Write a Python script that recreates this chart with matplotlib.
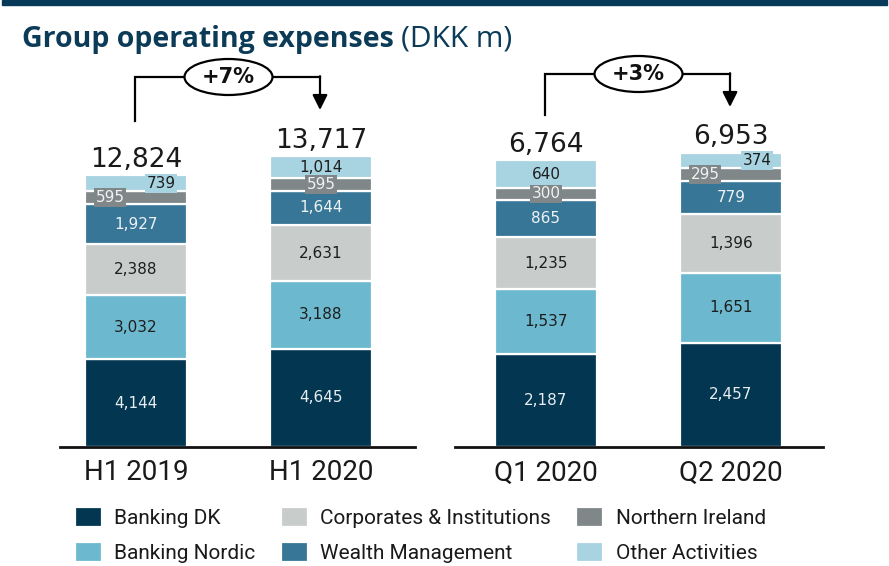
import matplotlib
matplotlib.use("Agg")
import matplotlib.pyplot as plt
from matplotlib.patches import Ellipse, Rectangle

# data
segments = ["Banking DK", "Banking Nordic", "Corporates & Institutions",
            "Wealth Management", "Northern Ireland", "Other Activities"]
h_periods = ["H1 2019", "H1 2020"]
h_values = [[4144, 4645], [3032, 3188], [2388, 2631], [1927, 1644], [595, 595], [739, 1014]]
h_totals = [12824, 13717]
q_periods = ["Q1 2020", "Q2 2020"]
q_values = [[2187, 2457], [1537, 1651], [1235, 1396], [865, 779], [300, 295], [640, 374]]
q_totals = [6764, 6953]
h_change = "+7%"
q_change = "+3%"

colors = ["#023651", "#6cb9cf", "#c8cdcc", "#377697", "#7f8789", "#a8d3e1"]
text_colors = ["#e6ecef", "#1e1e1e", "#1e1e1e", "#eef2f4", "#f2f2f2", "#1e1e1e"]
navy = "#0c3b58"

W, H = 889, 566
fig = plt.figure(figsize=(W / 100, H / 100), dpi=100)

def ax_rect(x0, x1, ytop, ybase):
    return [x0 / W, (H - ybase) / H, (x1 - x0) / W, (ybase - ytop) / H]

px_per_k = 21.18
ax1 = fig.add_axes(ax_rect(60, 415, 60, 447))
ax2 = fig.add_axes(ax_rect(455, 823, 60, 447))

# label placement for the thin segments: (period index, segment index) -> x shift in px, boxed
h_special = {(0, 4): -26, (0, 5): 25, (1, 4): 0}
q_special = {(0, 4): 0, (1, 4): -26, (1, 5): 26}

def draw_panel(ax, periods, values, totals, xs, ymax, special):
    ax.set_xlim(ax.get_position().x0 * W, ax.get_position().x1 * W)
    ax.set_ylim(0, ymax)
    bottoms = [0] * len(periods)
    for s, seg in enumerate(segments):
        vals = values[s]
        ax.bar(xs, vals, width=102, bottom=bottoms, color=colors[s],
               edgecolor="white", linewidth=1.6, label=seg if ax is ax1 else None)
        for i, v in enumerate(vals):
            yc = bottoms[i] + v / 2
            lab = f"{v:,}"
            if (i, s) in special:
                ax.text(xs[i] + special[(i, s)], yc, lab, ha="center", va="center",
                        fontsize=11, color=text_colors[s], family="DejaVu Sans",
                        bbox=dict(boxstyle="square,pad=0.12", fc=colors[s], ec="none"))
            else:
                ax.text(xs[i], yc, lab, ha="center", va="center", fontsize=11,
                        color=text_colors[s], family="DejaVu Sans")
        bottoms = [b + v for b, v in zip(bottoms, vals)]
    for i, t in enumerate(totals):
        ax.annotate(f"{t:,}", (xs[i], t), xytext=(0, 2), textcoords="offset points",
                    ha="center", va="bottom", fontsize=19, color="#1a1a1a",
                    family="DejaVu Sans")
    ax.set_xticks(xs)
    ax.set_xticklabels(periods, fontsize=20, family="Roboto", color="#1a1a1a")
    ax.tick_params(axis="x", length=0, pad=9)
    ax.set_yticks([])
    for sp in ["top", "right", "left"]:
        ax.spines[sp].set_visible(False)
    ax.spines["bottom"].set_linewidth(2)
    ax.spines["bottom"].set_color("#111111")

ymax = 387 / px_per_k * 1000
draw_panel(ax1, h_periods, h_values, h_totals, [136, 321], ymax, h_special)
draw_panel(ax2, q_periods, q_values, q_totals, [546, 731], ymax / 2, q_special)

# overlay for decorations in pixel coordinates
ov = fig.add_axes([0, 0, 1, 1], zorder=5)
ov.set_xlim(0, W)
ov.set_ylim(H, 0)
ov.axis("off")
ov.add_patch(Rectangle((2, 0), W - 4, 5, color="#063a58"))

t1 = fig.text(22 / W, 1 - 39 / H, "Group operating expenses", fontsize=20.5, fontweight="bold",
              color=navy, family="Open Sans", va="center")
fig.canvas.draw()
bb = t1.get_window_extent()
fig.text((bb.x1 + 7) / W, 1 - 39 / H, "(DKK m)", fontsize=21.5, color=navy,
         family="Open Sans", va="center")

def change_arrow(x0, x1, y_start, y_line, y_tip, label):
    ov.plot([x0, x0, x1], [y_start, y_line, y_line], color="black", lw=1.6,
            solid_joinstyle="miter")
    ov.annotate("", xy=(x1, y_tip), xytext=(x1, y_line - 0.8),
                arrowprops=dict(arrowstyle="-|>,head_length=0.9,head_width=0.45",
                                color="black", lw=1.6, shrinkA=0, shrinkB=0))
    xc = (x0 + x1) / 2 + 1
    ov.add_patch(Ellipse((xc, y_line), 88, 36, fc="white", ec="black", lw=1.6, zorder=3))
    ov.text(xc, y_line, label, ha="center", va="center", fontsize=15, fontweight="bold",
            color="#111111", family="DejaVu Sans", zorder=4)

change_arrow(135, 320, 121, 77, 110, h_change)
change_arrow(545, 730, 115, 74, 107, q_change)

fig.legend(loc="upper left", bbox_to_anchor=(56 / W, 1 - 488 / H), ncol=3, frameon=False,
           prop=dict(family="Roboto", size=15), handlelength=1.3,
           handleheight=1.1, handletextpad=0.6, columnspacing=1.2, labelspacing=0.68,
           labelcolor="#1a1a1a")

fig.savefig("out.png", dpi=100)
